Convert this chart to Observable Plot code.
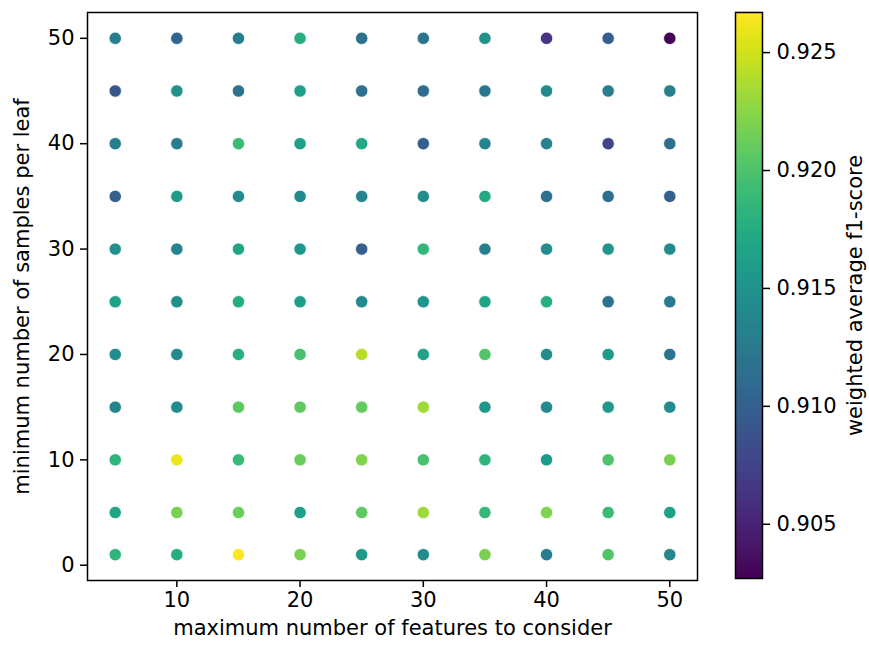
<!DOCTYPE html>
<html>
<head>
<meta charset="utf-8">
<script src="https://cdn.jsdelivr.net/npm/d3@7"></script>
<script src="https://cdn.jsdelivr.net/npm/@observablehq/plot@0.6"></script>
<style>
  html, body { margin: 0; padding: 0; background: #fff; }
  #wrap { position: relative; width: 869px; height: 649px; font-family: "DejaVu Sans", sans-serif; }
  #main, #cbar { position: absolute; top: 0; }
  #main { left: 0; }
  #cbar { left: 700px; }
</style>
</head>
<body>
<div id="wrap"><div id="main"></div><div id="cbar"></div></div>
<script>
// maximum number of features to consider (x)
const maxFeatures = [5, 10, 15, 20, 25, 30, 35, 40, 45, 50];
// minimum number of samples per leaf (y)
const minSamplesLeaf = [1, 5, 10, 15, 20, 25, 30, 35, 40, 45, 50];
// weighted average f1-score, one array per min_samples_leaf value (ordered by maxFeatures)
const f1_leaf1  = [0.9183, 0.9176, 0.9267, 0.9219, 0.9157, 0.9145, 0.9219, 0.9128, 0.9202, 0.9137];
const f1_leaf5  = [0.9169, 0.9219, 0.9212, 0.9161, 0.9207, 0.9233, 0.9188, 0.9221, 0.9190, 0.9164];
const f1_leaf10 = [0.9183, 0.9260, 0.9190, 0.9212, 0.9221, 0.9197, 0.9183, 0.9159, 0.9200, 0.9219];
const f1_leaf15 = [0.9135, 0.9142, 0.9207, 0.9207, 0.9209, 0.9233, 0.9154, 0.9142, 0.9154, 0.9142];
const f1_leaf20 = [0.9145, 0.9142, 0.9178, 0.9197, 0.9241, 0.9166, 0.9202, 0.9145, 0.9159, 0.9121];
const f1_leaf25 = [0.9164, 0.9145, 0.9176, 0.9161, 0.9140, 0.9152, 0.9166, 0.9176, 0.9116, 0.9125];
const f1_leaf30 = [0.9147, 0.9133, 0.9169, 0.9154, 0.9099, 0.9185, 0.9130, 0.9145, 0.9152, 0.9142];
const f1_leaf35 = [0.9101, 0.9159, 0.9142, 0.9140, 0.9135, 0.9145, 0.9173, 0.9116, 0.9113, 0.9099];
const f1_leaf40 = [0.9130, 0.9128, 0.9190, 0.9161, 0.9171, 0.9099, 0.9135, 0.9133, 0.9075, 0.9113];
const f1_leaf45 = [0.9092, 0.9147, 0.9118, 0.9161, 0.9116, 0.9111, 0.9121, 0.9142, 0.9128, 0.9130];
const f1_leaf50 = [0.9128, 0.9104, 0.9128, 0.9176, 0.9116, 0.9118, 0.9147, 0.9063, 0.9099, 0.9028];
const f1Rows = [f1_leaf1, f1_leaf5, f1_leaf10, f1_leaf15, f1_leaf20, f1_leaf25, f1_leaf30, f1_leaf35, f1_leaf40, f1_leaf45, f1_leaf50];

const xTicks = [10, 20, 30, 40, 50];
const yTicks = [0, 10, 20, 30, 40, 50];
const cTicks = [0.905, 0.910, 0.915, 0.920, 0.925];
const colorDomain = [0.9027, 0.9267];

const xLabel = "maximum number of features to consider";
const yLabel = "minimum number of samples per leaf";
const cLabel = "weighted average f1-score";

const data = [];
minSamplesLeaf.forEach((leaf, i) => {
  maxFeatures.forEach((feat, j) => {
    data.push({features: feat, leaf: leaf, f1: f1Rows[i][j]});
  });
});

const font = {fontSize: "21px", fontFamily: "DejaVu Sans, sans-serif", color: "black", background: "white", overflow: "visible"};

const main = Plot.plot({
  width: 710,
  height: 649,
  marginLeft: 87,
  marginRight: 13,
  marginTop: 12,
  marginBottom: 69,
  style: font,
  x: {domain: [2.75, 52.25]},
  y: {domain: [-1.45, 52.45]},
  color: {type: "linear", scheme: "viridis", domain: colorDomain},
  marks: [
    Plot.dot(data, {x: "features", y: "leaf", fill: "f1", r: 6.2, stroke: "white", strokeWidth: 0.8}),
    Plot.frame({stroke: "black", strokeWidth: 1.5}),
    Plot.axisX({ticks: xTicks, tickSize: 7, tickPadding: 5, strokeWidth: 1.5, label: null, fill: "black", fontSize: 21}),
    Plot.axisY({ticks: yTicks, tickSize: 7, tickPadding: 6, strokeWidth: 1.5, label: null, fill: "black", fontSize: 21}),
    Plot.text([xLabel], {frameAnchor: "bottom", dy: 54, text: d => d, fill: "black", fontSize: 21, textAnchor: "middle"}),
    Plot.text([yLabel], {frameAnchor: "left", dx: -65, rotate: -90, text: d => d, fill: "black", fontSize: 21, textAnchor: "middle"})
  ]
});
document.getElementById("main").appendChild(main);

const nStops = 300;
const stops = d3.range(nStops).map(i => {
  const v0 = colorDomain[0] + (colorDomain[1] - colorDomain[0]) * i / nStops;
  const v1 = colorDomain[0] + (colorDomain[1] - colorDomain[0]) * (i + 1) / nStops;
  return {v0, v1, mid: (v0 + v1) / 2};
});

const cbar = Plot.plot({
  width: 169,
  height: 649,
  marginLeft: 35,
  marginRight: 107,
  marginTop: 12,
  marginBottom: 71,
  style: font,
  y: {domain: colorDomain},
  color: {type: "linear", scheme: "viridis", domain: colorDomain},
  marks: [
    Plot.rect(stops, {y1: "v0", y2: "v1", fill: "mid", insetTop: -0.4, insetBottom: -0.4}),
    Plot.frame({stroke: "black", strokeWidth: 1.5}),
    Plot.axisY({anchor: "right", ticks: cTicks, tickFormat: d3.format(".3f"), tickSize: 7, tickPadding: 7, strokeWidth: 1.5, label: null, fill: "black", fontSize: 21}),
    Plot.text([cLabel], {frameAnchor: "right", dx: 93, rotate: -90, text: d => d, fill: "black", fontSize: 21, textAnchor: "middle"})
  ]
});
document.getElementById("cbar").appendChild(cbar);
</script>
</body>
</html>
